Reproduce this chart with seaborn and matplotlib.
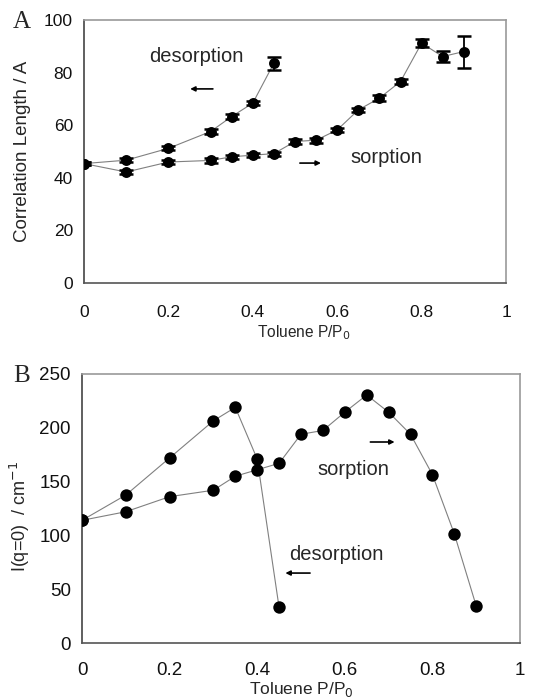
import matplotlib
matplotlib.use("Agg")
import matplotlib.pyplot as plt
import seaborn as sns
import numpy as np
import pandas as pd

sns.set_theme(style="white")
plt.rcParams['font.family'] = ['Liberation Sans', 'DejaVu Sans']

# ---- Panel A data: correlation length ----
a_sorp_x = [0, 0.1, 0.2, 0.3, 0.35, 0.4, 0.45, 0.5, 0.55, 0.6, 0.65, 0.7, 0.75, 0.8, 0.85, 0.9]
a_sorp_y = [45.4, 42.2, 46.0, 46.6, 48.0, 48.6, 49.2, 53.8, 54.3, 58.2, 65.8, 70.3, 76.6, 91.2, 86.1, 88.0]
a_sorp_err = [0.6, 0.8, 0.8, 0.8, 0.8, 0.8, 0.8, 0.8, 0.9, 0.9, 0.9, 1.0, 1.0, 1.6, 2.0, 6.1]
a_des_x = [0, 0.1, 0.2, 0.3, 0.35, 0.4, 0.45]
a_des_y = [45.4, 46.7, 51.2, 57.6, 63.3, 68.4, 83.6]
a_des_err = [0.6, 0.8, 0.8, 0.9, 0.9, 0.9, 2.5]

# ---- Panel B data: I(q=0) ----
b_sorp_x = [0, 0.1, 0.2, 0.3, 0.35, 0.4, 0.45, 0.5, 0.55, 0.6, 0.65, 0.7, 0.75, 0.8, 0.85, 0.9]
b_sorp_y = [114, 122, 136, 142, 155, 161, 167, 194, 197.5, 214.5, 230.5, 214.5, 194, 156.5, 101.5, 34.5]
b_des_x = [0, 0.1, 0.2, 0.3, 0.35, 0.4, 0.45]
b_des_y = [114, 137.5, 172, 206.5, 219, 171, 33]

x_ticks = [0, 0.2, 0.4, 0.6, 0.8, 1]
x_ticklabels = ["0", "0.2", "0.4", "0.6", "0.8", "1"]
a_yticks = [0, 20, 40, 60, 80, 100]
b_yticks = [0, 50, 100, 150, 200, 250]

fig = plt.figure(figsize=(5.53, 6.98), dpi=100)
axA = fig.add_axes([84/553, 1-283/698, (506-84)/553, 263/698])
axB = fig.add_axes([82/553, 1-643/698, (520-82)/553, 269/698])

line_kw = dict(color="#808080", linewidth=0.8, sort=False, legend=False)

# Panel A
for xs, ys, es in [(a_sorp_x, a_sorp_y, a_sorp_err), (a_des_x, a_des_y, a_des_err)]:
    df = pd.DataFrame({"x": xs, "y": ys})
    sns.lineplot(data=df, x="x", y="y", ax=axA, **line_kw)
    axA.errorbar(xs, ys, yerr=es, fmt="none", ecolor="black", elinewidth=1.3,
                 capsize=5, capthick=1.8, zorder=3)
    sns.scatterplot(data=df, x="x", y="y", ax=axA, s=62, color="black",
                    edgecolor="black", linewidth=0, zorder=4, legend=False)

# Panel B
for xs, ys in [(b_sorp_x, b_sorp_y), (b_des_x, b_des_y)]:
    df = pd.DataFrame({"x": xs, "y": ys})
    sns.lineplot(data=df, x="x", y="y", ax=axB, **line_kw)
    sns.scatterplot(data=df, x="x", y="y", ax=axB, s=80, color="black",
                    edgecolor="black", linewidth=0, zorder=4, legend=False)

for ax, yt, ymax, xdir, xpad, fs in [(axA, a_yticks, 100, "in", 16, 12.5),
                                     (axB, b_yticks, 250, "out", 10, 13.5)]:
    ax.set_xlim(0, 1)
    ax.set_ylim(0, ymax)
    ax.set_xticks(x_ticks)
    ax.set_xticklabels(x_ticklabels)
    ax.set_yticks(yt)
    ax.tick_params(axis="both", labelsize=fs, colors="#111111")
    ax.tick_params(axis="x", direction=xdir, length=4, width=1, color="#555555", pad=xpad)
    ax.tick_params(axis="y", direction="out", length=4, width=1, color="#555555", pad=4)
    ax.spines["left"].set_color("#444444")
    ax.spines["bottom"].set_color("#555555")
    ax.spines["top"].set_color("#999999")
    ax.spines["right"].set_color("#999999")
    for s in ax.spines.values():
        s.set_linewidth(1.2)
    ax.grid(False)
    ax.set_facecolor("white")

axA.set_xlabel("Toluene P/P$_0$", fontsize=11.2, labelpad=2)
axA.xaxis.label.set_x(0.52)
axA.set_ylabel("Correlation Length / A", fontsize=13.5, labelpad=9)
axB.set_xlabel("Toluene P/P$_0$", fontsize=12.5, labelpad=0.5)
axB.set_ylabel("I(q=0)  / cm$^{-1}$", fontsize=13, labelpad=5)
axB.yaxis.label.set_y(0.47)

arrow = dict(arrowstyle="-|>", color="black", lw=1.2, mutation_scale=7)

# annotations panel A
axA.text(0.265, 86, "desorption", fontsize=14.5, ha="center", va="center")
axA.annotate("", xy=(0.245, 73.8), xytext=(0.312, 73.8), arrowprops=arrow)
axA.text(0.716, 47.9, "sorption", fontsize=14.5, ha="center", va="center")
axA.annotate("", xy=(0.568, 45.6), xytext=(0.505, 45.6), arrowprops=arrow)

# annotations panel B
axB.text(0.619, 160.8, "sorption", fontsize=14.5, ha="center", va="center")
axB.annotate("", xy=(0.72, 186.8), xytext=(0.652, 186.8), arrowprops=arrow)
axB.text(0.58, 82.7, "desorption", fontsize=14.5, ha="center", va="center")
axB.annotate("", xy=(0.458, 65), xytext=(0.527, 65), arrowprops=arrow)

fig.text(13/553, 1-22/698, "A", fontsize=18, family=["Liberation Serif", "DejaVu Serif"],
         ha="left", va="center")
fig.text(13/553, 1-376/698, "B", fontsize=18, family=["Liberation Serif", "DejaVu Serif"],
         ha="left", va="center")

fig.savefig("out.png", dpi=100, facecolor="white")
